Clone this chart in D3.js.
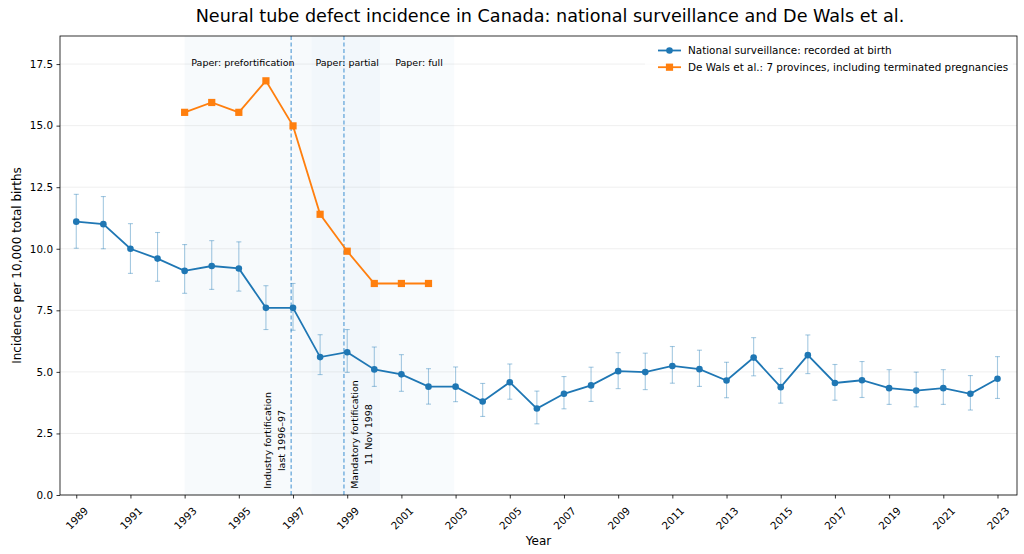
<!DOCTYPE html>
<html>
<head>
<meta charset="utf-8">
<script src="https://cdn.jsdelivr.net/npm/d3@7"></script>
<style>
  html, body { margin: 0; padding: 0; background: #fff; }
  svg text { font-family: "DejaVu Sans", sans-serif; fill: #000; }
</style>
</head>
<body>
<div id="chart"></div>
<script>
// ====== data ======
const years = d3.range(1989, 2024);
const national = [11.1, 11.0, 10.0, 9.6, 9.1, 9.3, 9.2, 7.6, 7.6, 5.6, 5.8, 5.1, 4.9, 4.4, 4.4,
  3.8, 4.58, 3.51, 4.11, 4.45, 5.03, 4.99, 5.24, 5.11, 4.65, 5.58, 4.38, 5.68, 4.55, 4.66,
  4.34, 4.24, 4.34, 4.11, 4.72];
const nationalLow = [10.02, 10.0, 9.0, 8.68, 8.19, 8.35, 8.28, 6.72, 6.69, 4.89, 4.98, 4.41, 4.21, 3.69, 3.79,
  3.19, 3.89, 2.89, 3.50, 3.80, 4.32, 4.28, 4.54, 4.41, 3.95, 4.84, 3.73, 4.93, 3.85, 3.96,
  3.68, 3.58, 3.68, 3.45, 3.92];
const nationalHigh = [12.21, 12.12, 11.02, 10.66, 10.17, 10.33, 10.28, 8.50, 8.59, 6.51, 6.72, 6.01, 5.70, 5.13, 5.20,
  4.53, 5.32, 4.22, 4.81, 5.19, 5.78, 5.76, 6.03, 5.88, 5.39, 6.39, 5.14, 6.50, 5.30, 5.42,
  5.09, 4.99, 5.09, 4.85, 5.62];

const deWalsYears = [1993, 1994, 1995, 1996, 1997, 1998, 1999, 2000, 2001, 2002];
const deWals = [15.54, 15.94, 15.54, 16.82, 14.99, 11.4, 9.9, 8.59, 8.59, 8.59];

const periodLabels = ["Paper: prefortification", "Paper: partial", "Paper: full"];
const periodStart = [1993.0, 1997.69, 2000.21];
const periodEnd = [1997.69, 2000.21, 2002.95];
const periodLabelX = [1995.15, 1999.0, 2001.65];
const periodOpacity = [0.035, 0.06, 0.03];

const eventYears = [1996.93, 1998.88];
const eventLines = [["Industry fortification", "last 1996\u201397"], ["Mandatory fortification", "11 Nov 1998"]];
const eventSide = ["left", "right"];

const xTicks = d3.range(1989, 2024, 2);
const yTicks = [0, 2.5, 5, 7.5, 10, 12.5, 15, 17.5];

const seriesNames = ["National surveillance: recorded at birth", "De Wals et al.: 7 provinces, including terminated pregnancies"];

// ====== chart ======
const width = 1024, height = 554;
const margin = { top: 36, right: 7, bottom: 59, left: 60 };
const blue = "#1f77b4", orange = "#ff7f0e";

const svg = d3.select("#chart").append("svg")
  .attr("width", width)
  .attr("height", height);

const x = d3.scaleLinear()
  .domain([1988.4, 2023.72])
  .range([margin.left, width - margin.right]);
const y = d3.scaleLinear()
  .domain([0, 18.64])
  .range([height - margin.bottom, margin.top]);

// shaded periods
svg.append("g").selectAll("rect")
  .data(periodLabels)
  .join("rect")
  .attr("x", (d, i) => x(periodStart[i]))
  .attr("width", (d, i) => x(periodEnd[i]) - x(periodStart[i]))
  .attr("y", margin.top)
  .attr("height", y(0) - margin.top)
  .attr("fill", blue)
  .attr("fill-opacity", (d, i) => periodOpacity[i]);

// grid
svg.append("g").selectAll("line")
  .data(yTicks)
  .join("line")
  .attr("x1", margin.left).attr("x2", width - margin.right)
  .attr("y1", d => y(d)).attr("y2", d => y(d))
  .attr("stroke", "#b0b0b0")
  .attr("stroke-opacity", 0.25)
  .attr("stroke-width", 0.8);

// event lines
svg.append("g").selectAll("line")
  .data(eventYears)
  .join("line")
  .attr("x1", d => x(d)).attr("x2", d => x(d))
  .attr("y1", margin.top).attr("y2", y(0))
  .attr("stroke", "#2a84cc")
  .attr("stroke-opacity", 0.9)
  .attr("stroke-width", 1)
  .attr("stroke-dasharray", "4,2.5");

// period labels
svg.append("g").selectAll("text")
  .data(periodLabels)
  .join("text")
  .attr("x", (d, i) => x(periodLabelX[i]))
  .attr("y", y(17.55))
  .attr("dy", "0.35em")
  .attr("text-anchor", "middle")
  .style("font-size", "9.5px")
  .text(d => d);

// event labels (rotated, two lines)
eventLines.forEach((lines, i) => {
  const lx = x(eventYears[i]);
  const g = svg.append("g");
  const texts = lines.map(t => g.append("text")
    .attr("text-anchor", "middle")
    .style("font-size", "9.5px")
    .text(t));
  const maxLen = d3.max(texts, t => t.node().getComputedTextLength());
  const cy = y(0.25) - maxLen / 2;
  texts.forEach((t, j) => {
    const bx = eventSide[i] === "left" ? lx - 20.5 + j * 14 : lx + 14 + j * 14;
    t.attr("transform", `translate(${bx},${cy}) rotate(-90)`);
  });
});

// error bars
const eb = svg.append("g")
  .attr("stroke", blue)
  .attr("stroke-opacity", 0.4)
  .attr("stroke-width", 1.1);
eb.selectAll("line.v")
  .data(years)
  .join("line")
  .attr("class", "v")
  .attr("x1", d => x(d)).attr("x2", d => x(d))
  .attr("y1", (d, i) => y(nationalLow[i])).attr("y2", (d, i) => y(nationalHigh[i]));
eb.selectAll("line.lo")
  .data(years)
  .join("line")
  .attr("class", "lo")
  .attr("x1", d => x(d) - 2.5).attr("x2", d => x(d) + 2.5)
  .attr("y1", (d, i) => y(nationalLow[i])).attr("y2", (d, i) => y(nationalLow[i]));
eb.selectAll("line.hi")
  .data(years)
  .join("line")
  .attr("class", "hi")
  .attr("x1", d => x(d) - 2.5).attr("x2", d => x(d) + 2.5)
  .attr("y1", (d, i) => y(nationalHigh[i])).attr("y2", (d, i) => y(nationalHigh[i]));

// national line
const line = d3.line().x(d => x(d[0])).y(d => y(d[1]));
svg.append("path")
  .datum(years.map((yr, i) => [yr, national[i]]))
  .attr("d", line)
  .attr("fill", "none")
  .attr("stroke", blue)
  .attr("stroke-width", 1.8);
svg.append("g").selectAll("circle")
  .data(years)
  .join("circle")
  .attr("cx", d => x(d))
  .attr("cy", (d, i) => y(national[i]))
  .attr("r", 3.3)
  .attr("fill", blue);

// De Wals line
svg.append("path")
  .datum(deWalsYears.map((yr, i) => [yr, deWals[i]]))
  .attr("d", line)
  .attr("fill", "none")
  .attr("stroke", orange)
  .attr("stroke-width", 1.8);
svg.append("g").selectAll("rect")
  .data(deWalsYears)
  .join("rect")
  .attr("x", d => x(d) - 3.6)
  .attr("y", (d, i) => y(deWals[i]) - 3.6)
  .attr("width", 7.2).attr("height", 7.2)
  .attr("fill", orange);

// axes
const xAxis = svg.append("g")
  .attr("transform", `translate(0,${y(0)})`)
  .call(d3.axisBottom(x).tickValues(xTicks).tickFormat(d3.format("d")).tickSize(3.5).tickSizeOuter(0));
xAxis.select(".domain").remove();
xAxis.selectAll(".tick text")
  .style("font-size", "10.4px")
  .attr("y", 0).attr("dy", 0)
  .attr("text-anchor", "middle")
  .attr("dominant-baseline", "central")
  .attr("transform", "translate(0,23) rotate(-45)");

const yAxis = svg.append("g")
  .attr("transform", `translate(${margin.left},0)`)
  .call(d3.axisLeft(y).tickValues(yTicks).tickFormat(d3.format(".1f")).tickSize(3.5).tickSizeOuter(0));
yAxis.select(".domain").remove();
yAxis.selectAll(".tick text")
  .style("font-size", "10.4px")
  .attr("x", -7);

svg.selectAll(".tick line").attr("stroke", "#000").attr("stroke-width", 0.8);

// frame
svg.append("rect")
  .attr("x", margin.left).attr("y", margin.top)
  .attr("width", width - margin.right - margin.left)
  .attr("height", y(0) - margin.top)
  .attr("fill", "none")
  .attr("stroke", "#000")
  .attr("stroke-width", 0.8);

// labels
svg.append("text")
  .attr("x", 550).attr("y", 22)
  .attr("text-anchor", "middle")
  .style("font-size", "17.6px")
  .text("Neural tube defect incidence in Canada: national surveillance and De Wals et al.");

svg.append("text")
  .attr("x", (margin.left + width - margin.right) / 2)
  .attr("y", 545)
  .attr("text-anchor", "middle")
  .style("font-size", "12px")
  .text("Year");

svg.append("text")
  .attr("transform", `translate(20.5,${(margin.top + y(0)) / 2}) rotate(-90)`)
  .attr("text-anchor", "middle")
  .style("font-size", "12px")
  .text("Incidence per 10,000 total births");

// legend
const legend = svg.append("g").attr("transform", "translate(645,40)");
legend.append("rect")
  .attr("width", 368).attr("height", 38)
  .attr("fill", "#fff").attr("fill-opacity", 0.8);
const colors = [blue, orange];
seriesNames.forEach((name, i) => {
  const ry = 10.5 + i * 16.7;
  legend.append("line")
    .attr("x1", 13).attr("x2", 36)
    .attr("y1", ry).attr("y2", ry)
    .attr("stroke", colors[i]).attr("stroke-width", 1.8);
  if (i === 0) {
    legend.append("circle").attr("cx", 24.5).attr("cy", ry).attr("r", 3.3).attr("fill", blue);
  } else {
    legend.append("rect").attr("x", 24.5 - 3.6).attr("y", ry - 3.6)
      .attr("width", 7.2).attr("height", 7.2).attr("fill", orange);
  }
  legend.append("text")
    .attr("x", 43).attr("y", ry)
    .attr("dy", "0.35em")
    .style("font-size", "10.4px")
    .text(name);
});
</script>
</body>
</html>
